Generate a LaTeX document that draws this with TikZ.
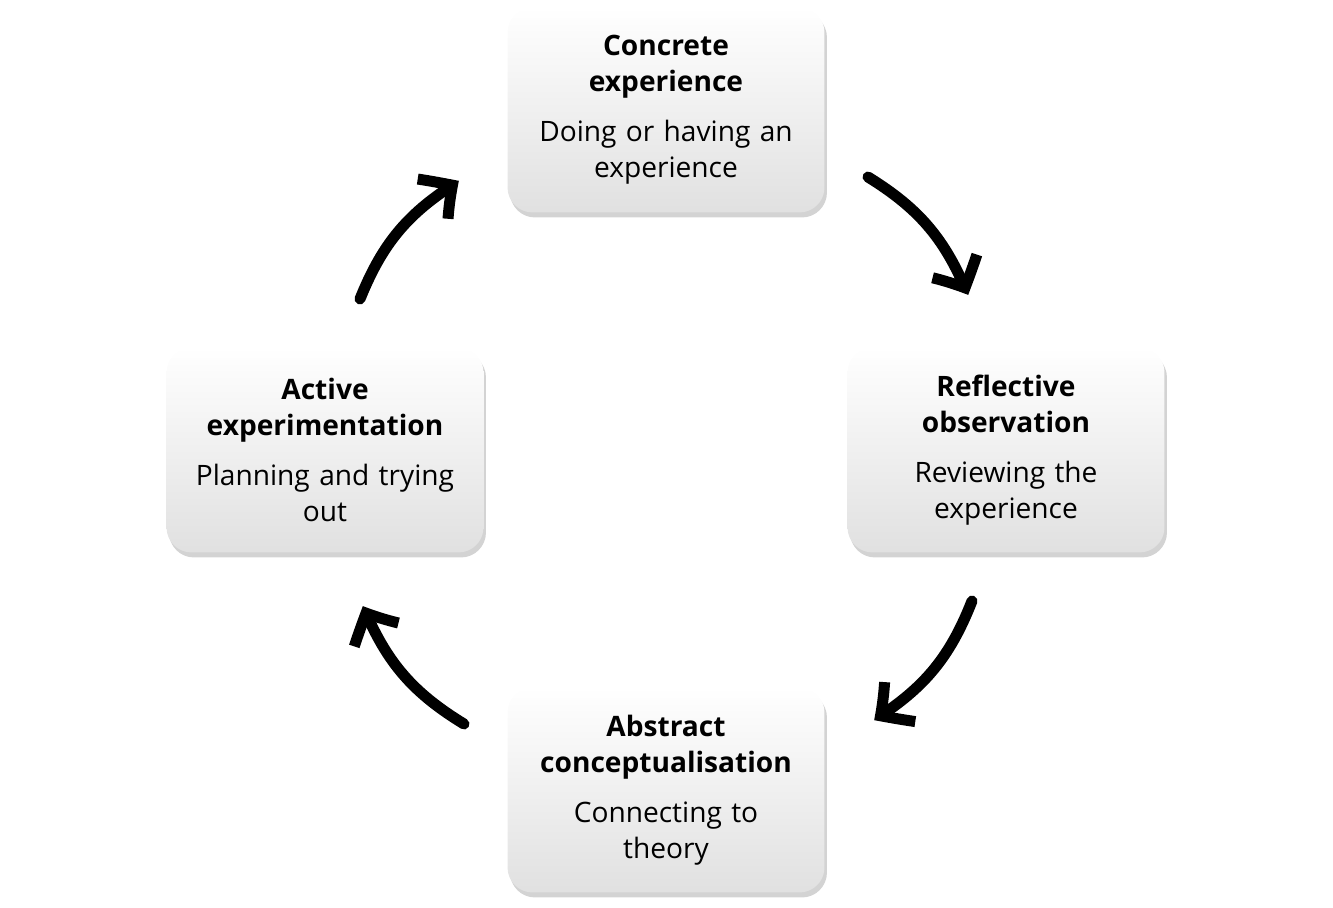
\documentclass[tikz,border=0pt]{standalone}
\usepackage{fontspec}
\setmainfont{Open Sans}
\usetikzlibrary{arrows.meta,shadows,bending}

\begin{document}
\begin{tikzpicture}[x=0.02cm,y=-0.02cm,line width=2.2mm,line cap=round,
    -{Straight Barb[length=5mm,width=10mm,line width=2.2mm,bend]}]
    \tikzstyle{stage}=[draw=none,rounded corners=0.5cm,minimum width=6.34cm,
        minimum height=4.1cm,text width=6.1cm,align=center,
        top color=white,bottom color=black!12,
        drop shadow={opacity=0.35,shadow xshift=0.5mm,shadow yshift=-1mm},
        font=\fontsize{16}{20.5}\selectfont]
    \useasboundingbox (0,0) rectangle (1333,908);

    % Draw the four stages
    \node[stage] (CE) at (666,110) {\textbf{Concrete\\experience}\\[8pt]Doing or having an\\experience};
    \node[stage] (RO) at (1006,450) {\textbf{Reflective\\observation}\\[8pt]Reviewing the\\experience};
    \node[stage] (AC) at (666,790) {\textbf{Abstract\\conceptualisation}\\[8pt]Connecting to\\theory};
    \node[stage] (AE) at (325,450) {\textbf{Active\\experimentation}\\[8pt]Planning and trying\\out};

    % Arrow ends
    \coordinate (a1) at (868,177);
    \coordinate (b1) at (968,295);
    \coordinate (a2) at (972,601);
    \coordinate (b2) at (874,720);
    \coordinate (a3) at (464,724);
    \coordinate (b3) at (363,606);
    \coordinate (a4) at (360,299);
    \coordinate (b4) at (459,181);

    % Connect the stages
    \draw (a1) to[bend left=18] (b1);
    \draw (a2) to[bend left=18] (b2);
    \draw (a3) to[bend left=18] (b3);
    \draw (a4) to[bend left=18] (b4);
\end{tikzpicture}
\end{document}
